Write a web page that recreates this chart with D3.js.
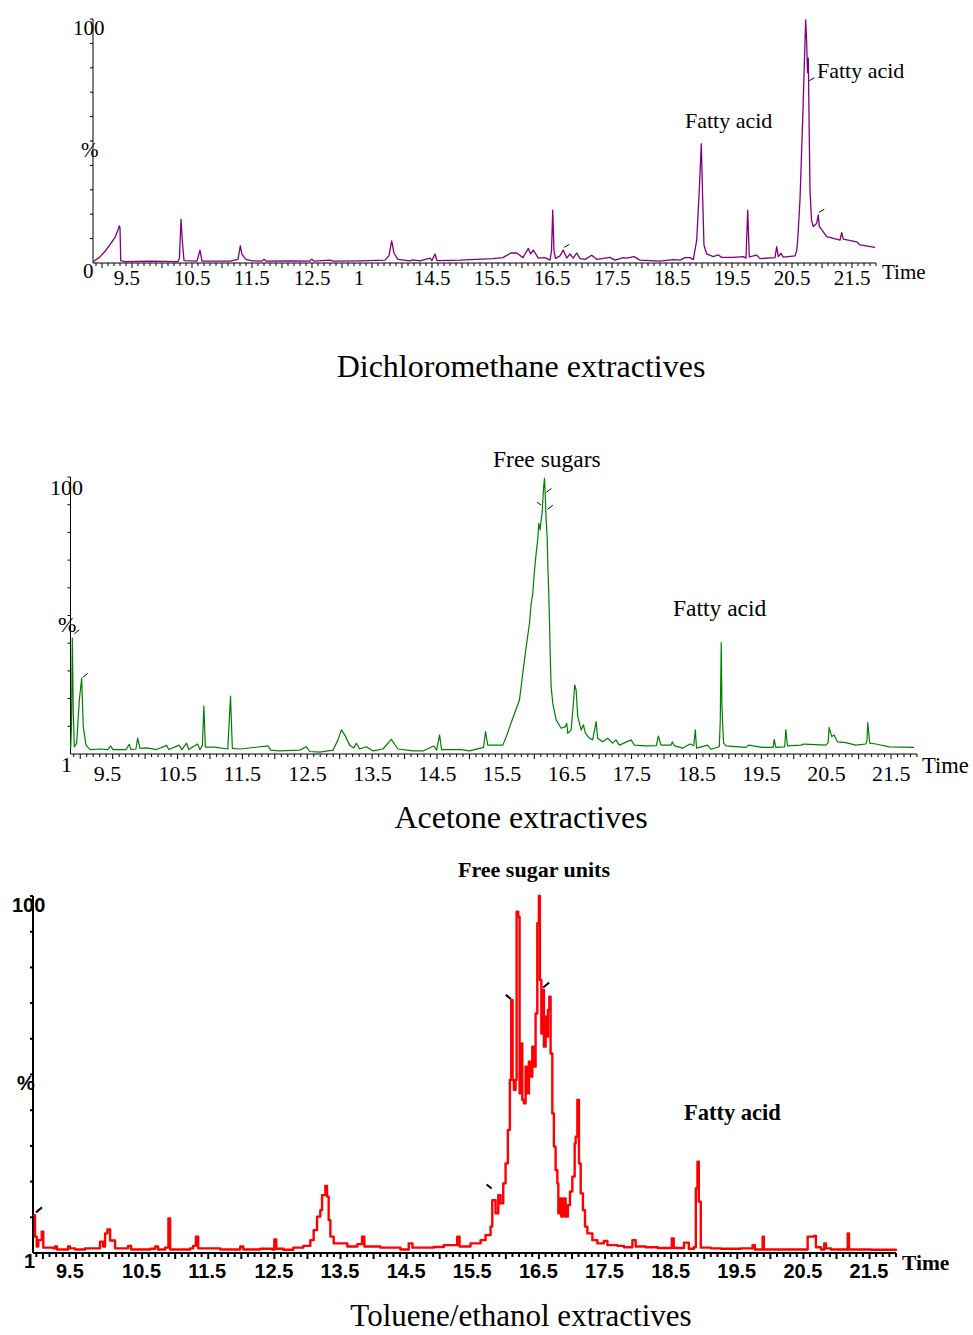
<!DOCTYPE html>
<html>
<head>
<meta charset="utf-8">
<script src="https://cdn.jsdelivr.net/npm/d3@7"></script>
<style>
html,body{margin:0;padding:0;background:#fff;}
svg{display:block;}
</style>
</head>
<body>
<svg id="chart" width="973" height="1335"></svg>
<script>
// ---------------- DATA ----------------
const timeDomain = [8.85, 21.9];
const tickTimes = [9.5,10.5,11.5,12.5,13.5,14.5,15.5,16.5,17.5,18.5,19.5,20.5,21.5];
const dcmTickLabels = ["9.5","10.5","11.5","12.5","1","14.5","15.5","16.5","17.5","18.5","19.5","20.5","21.5"];
const acetoneTickLabels = ["9.5","10.5","11.5","12.5","13.5","14.5","15.5","16.5","17.5","18.5","19.5","20.5","21.5"];
const tolueneTickLabels = ["9.5","10.5","11.5","12.5","13.5","14.5","15.5","16.5","17.5","18.5","19.5","20.5","21.5"];

// Dichloromethane extractives (time, %)
const dcmTime = [8.855,8.883,8.967,9.05,9.133,9.217,9.267,9.288,9.30,9.312,9.383,9.80,10.267,10.29,10.317,10.342,10.367,10.583,10.633,10.667,11.133,11.267,11.305,11.333,11.40,11.5,11.667,11.70,11.733,12.133,12.467,12.495,12.533,12.80,12.85,13.30,13.717,13.783,13.828,13.867,13.933,14.133,14.183,14.30,14.467,14.50,14.55,14.583,14.967,15.245,15.517,15.683,15.812,15.912,16.017,16.105,16.145,16.188,16.272,16.383,16.467,16.492,16.512,16.533,16.558,16.633,16.688,16.745,16.80,16.855,16.912,16.967,17.05,17.162,17.245,17.467,17.55,17.688,17.745,17.867,17.967,18.30,18.522,18.633,18.717,18.80,18.855,18.912,18.955,18.988,19.012,19.033,19.078,19.188,19.272,19.328,19.522,19.688,19.733,19.762,19.788,19.912,19.967,20.217,20.245,20.272,20.317,20.355,20.55,20.578,20.595,20.633,20.678,20.712,20.728,20.742,20.758,20.772,20.783,20.80,20.825,20.855,20.912,20.938,20.955,21.078,21.30,21.328,21.355,21.578,21.633,21.883];
const dcmSignal = [0.5,1,2.5,4.8,7.5,10.5,13.5,15.2,14.5,1,0.6,0.8,0.6,2,17.9,8,1,0.8,5.3,0.8,0.8,1.5,7.0,3.5,1.5,0.9,0.8,1.6,0.8,0.9,0.8,1.6,0.8,1.2,0.8,0.9,1.2,3,9.1,4,1.5,0.9,1.3,0.9,2,1,3.7,1,1.2,1.5,1.8,2.2,4.1,4.1,2.2,6.0,3.7,5.3,2,2.2,1.2,5,21.7,5,1.9,2.9,5.3,2.0,3.7,2,4.1,1.8,1.5,3.2,1.5,2.3,1.2,2.2,2,2.6,1.2,0.8,1.4,1.2,2.2,2.2,1.4,9.4,30,48.9,25.8,7.4,3.7,2.6,3.3,2.3,2.3,2.6,2.0,21.7,2.5,3.2,1.8,2.2,6.7,2.6,4,2.4,2.9,5,9.4,25.8,58.6,87,99.6,92,78,84,61,30,17.6,14.9,16.3,19.7,15,10.8,9.4,12.4,9.8,8.7,7.4,6.4];

// Acetone extractives (time, %)
const acetoneTime = [8.853,8.865,8.878,8.893,8.909,8.945,8.986,9.022,9.047,9.089,9.15,9.304,9.427,9.469,9.504,9.705,9.755,9.782,9.859,9.885,9.92,10.023,10.177,10.331,10.367,10.525,10.567,10.639,10.675,10.809,10.844,10.883,10.906,10.929,11.075,11.275,11.317,11.345,11.46,11.896,11.937,12.076,12.384,12.487,12.538,12.692,12.897,12.974,13.026,13.077,13.154,13.216,13.257,13.308,13.411,13.513,13.667,13.796,13.898,14.129,14.283,14.452,14.494,14.54,14.571,14.874,15.002,15.218,15.248,15.283,15.515,15.567,15.668,15.772,15.822,15.875,15.926,15.952,15.977,16.003,16.029,16.053,16.069,16.090,16.106,16.121,16.141,16.157,16.172,16.183,16.198,16.208,16.223,16.234,16.249,16.26,16.285,16.337,16.414,16.48,16.50,16.516,16.568,16.603,16.623,16.645,16.67,16.722,16.757,16.788,16.85,16.9,16.953,16.977,17.054,17.131,17.208,17.26,17.312,17.492,17.543,17.723,17.881,17.912,17.954,18.108,18.128,18.158,18.286,18.4,18.459,18.482,18.502,18.671,18.724,18.852,18.867,18.882,18.893,18.918,18.955,19.263,19.303,19.518,19.683,19.698,19.724,19.86,19.878,19.903,20.109,20.16,20.494,20.53,20.545,20.587,20.622,20.673,20.802,20.956,21.11,21.13,21.141,21.172,21.265,21.47,21.855];
const acetoneSignal = [2,10,41.8,14.7,2.6,3.9,19.5,27.3,9.9,3.2,1.6,1.8,1.6,2.9,1.6,1.6,3.5,1.6,1.8,5.7,2,2.2,1.6,3.1,1.6,3.2,1.6,3.9,1.6,3.6,1.6,3,17.3,2.5,2.5,1.8,20.9,2,1.8,2.9,1.4,1.1,1.4,2.6,0.9,0.7,1.4,5.1,8.7,6.9,3.2,2.2,3.9,1.8,2.6,1.1,1.8,5.3,1.8,1.1,1.1,2.9,1.4,6.9,1.6,1.6,1.1,2.4,8.1,3.2,3.2,6.2,12.9,19.5,29.1,38.7,47.2,54.4,58,66.4,72.5,77.3,83.3,80.9,84.5,86.9,95.3,99.5,91.7,84.5,78.4,68.8,58,48.4,32.7,24.3,18.3,12.3,9.3,9.9,11.1,7.5,8.7,18.3,24.9,23.1,13.5,8.7,10.5,7.5,5.7,5.1,11.7,5.7,4.4,5.7,3.9,5.1,3.2,5.1,3.2,2.9,3,6.5,3.2,3.2,4.4,3,2.1,3.6,3,8.7,2.1,3.2,1.7,2.6,12,40.2,17.1,3.9,2.9,2.4,3.2,2.4,2.4,5.3,2.4,2.6,8.7,2.9,3.2,3.6,3.2,4,9.6,6.2,6.9,4.4,4.1,3.2,3.6,5,11.3,3.9,3.6,2.6,2.4];

// Toluene/ethanol extractives (time, %)
const tolueneTime = [8.855,8.88,8.906,8.93,8.956,8.982,9.006,9.062,9.153,9.183,9.213,9.38,9.41,9.486,9.637,9.864,9.91,9.94,9.975,10.016,10.091,10.243,10.288,10.334,10.621,10.697,10.742,10.848,10.898,10.924,11.227,11.272,11.313,11.348,11.681,11.984,12.03,12.287,12.468,12.499,12.529,12.635,12.786,12.938,13.044,13.094,13.145,13.195,13.221,13.271,13.297,13.321,13.347,13.397,13.604,13.755,13.826,13.861,14.103,14.406,14.532,14.588,14.906,15.062,15.265,15.3,15.466,15.618,15.693,15.769,15.795,15.845,15.886,15.92,15.961,15.996,16.031,16.061,16.082,16.102,16.122,16.147,16.163,16.188,16.208,16.223,16.249,16.273,16.299,16.325,16.349,16.375,16.4,16.425,16.45,16.476,16.5,16.515,16.537,16.556,16.576,16.602,16.617,16.637,16.658,16.677,16.703,16.727,16.753,16.779,16.794,16.818,16.839,16.87,16.904,16.939,16.97,17.006,17.041,17.056,17.082,17.106,17.132,17.166,17.197,17.233,17.309,17.384,17.484,17.536,17.612,17.687,17.787,17.914,17.964,18.116,18.297,18.479,18.509,18.539,18.695,18.767,18.842,18.873,18.898,18.918,18.948,19.1,19.251,19.554,19.731,19.766,19.857,19.883,19.902,20.311,20.538,20.564,20.655,20.689,20.766,20.815,20.841,20.917,21.144,21.17,21.189,21.522,21.9];
const tolueneSignal = [10.6,4.6,1.8,3.6,3.6,6,1.5,1.5,1.3,1.8,1.0,1.8,1.3,1.0,1.3,3.2,1.8,5.5,6.6,3.5,1.3,1.3,2.0,1.0,1.2,1.8,1.0,1.5,9.7,1.0,1.3,2.0,4.6,1.3,1.0,1.8,1.0,1.2,1.0,3.8,1.2,0.9,1.5,2,3.6,6.4,10.2,12,16.2,18.8,15.8,9.2,4.6,2.7,1.8,2.5,4.6,1.8,1.5,1.0,2.7,1.5,1.7,2.2,4.6,1.8,2.7,3.6,5,7.4,14.8,11.1,16.2,13.9,19.5,25.1,34.5,48.5,70.9,48.5,45.7,48.5,95.6,94.2,44.7,58.7,42.9,41.9,52.2,44.7,53.6,49.4,57.8,52.2,67.1,92.4,100,76.5,61.5,73.7,57.8,66.2,60.6,68.1,71.8,55.9,39.1,29.8,23.2,19.5,11.1,15.3,10.2,15.3,10.2,13.4,17.2,21.4,30.7,32.6,42.9,25.1,16.7,12,7.4,5.5,3.6,2.7,3.4,2.2,2.2,2.0,1.6,3.6,1.8,1.6,1.4,1.4,4.1,1.4,2.9,1.2,1.6,18.1,25.6,14.4,1.5,1.3,1.2,1.3,2.2,1.0,1.0,4.6,1.0,1.0,1.0,4.6,4.8,1.6,1.0,2.7,1.3,1.0,1.0,5.5,1.0,0.9,0.6];

// peak-marker ticks (time, %, side)
const dcmMarkT = [16.688, 20.772, 20.938];
const dcmMarkI = [6.0, 74.3, 20.4];
const dcmMarkSide = ["r","r","r"];
const acetoneMarkT = [8.893, 9.022, 16.12, 16.172, 16.192];
const acetoneMarkI = [43, 27.3, 89.5, 94.1, 88];
const acetoneMarkSide = ["r","r","l","r","r"];
const tolueneMarkT = [8.88, 15.80, 16.09, 16.55];
const tolueneMarkI = [11.1, 17.8, 70.9, 74.1];
const tolueneMarkSide = ["r","l","l","r"];

// ---------------- DRAW ----------------
const svg = d3.select("#chart");
svg.append("rect").attr("width",973).attr("height",1335).attr("fill","#fff");

function zip(ts, vs){ return ts.map((t,i)=>({t:t, v:vs[i]})); }

function panel(cfg){
  const g = svg.append("g");
  const x = d3.scaleLinear().domain(timeDomain).range(cfg.xr);
  const y = d3.scaleLinear().domain([0,100]).range(cfg.yr);
  const base = cfg.yr[0];

  g.append("line").attr("x1",cfg.xr[0]).attr("x2",cfg.xr[1]).attr("y1",base).attr("y2",base)
    .attr("stroke","#000").attr("stroke-width",cfg.axisW);
  g.append("line").attr("x1",cfg.xr[0]).attr("x2",cfg.xr[0]).attr("y1",base).attr("y2",cfg.yr[1])
    .attr("stroke","#000").attr("stroke-width",cfg.axisW);

  g.selectAll(".yt").data(y.ticks(10).filter(d=>d>0)).enter().append("line")
    .attr("x1",cfg.xr[0]-cfg.ytl).attr("x2",cfg.xr[0]).attr("y1",d=>y(d)).attr("y2",d=>y(d))
    .attr("stroke","#000").attr("stroke-width",cfg.axisW);

  const minor = d3.range(Math.ceil(timeDomain[0]*10), Math.floor(timeDomain[1]*10)+1).map(d=>d/10);
  g.selectAll(".xt").data(minor).enter().append("line")
    .attr("x1",d=>x(d)).attr("x2",d=>x(d)).attr("y1",base)
    .attr("y2",d=>base + (Math.abs((d*10)%5)<0.01 ? cfg.xtl+2 : cfg.xtl))
    .attr("stroke","#000").attr("stroke-width",cfg.tickW);

  const line = d3.line().x(d=>x(d.t)).y(d=>y(d.v)).curve(cfg.curve);
  g.append("path").datum(zip(cfg.time,cfg.signal)).attr("d",line)
    .attr("fill","none").attr("stroke",cfg.color).attr("stroke-width",cfg.lineW)
    .attr("stroke-linejoin","round");

  const mk = cfg.markT.map((t,i)=>({t:t, v:cfg.markI[i], s:cfg.markSide[i]}));
  g.selectAll(".mk").data(mk).enter().append("line")
    .attr("x1",d=> d.s==="r" ? x(d.t)+1 : x(d.t)-cfg.mdx)
    .attr("y1",d=> d.s==="r" ? y(d.v)-1 : y(d.v)-cfg.mdy)
    .attr("x2",d=> d.s==="r" ? x(d.t)+1+cfg.mdx : x(d.t)-1)
    .attr("y2",d=> d.s==="r" ? y(d.v)-1-cfg.mdy : y(d.v)-1)
    .attr("stroke","#000").attr("stroke-width",cfg.markW);

  g.selectAll(".tl").data(tickTimes).enter().append("text")
    .attr("x",d=>x(d)-cfg.labOff).attr("y",cfg.labY)
    .attr("font-family",cfg.tickFont).attr("font-size",cfg.tickSize).attr("font-weight",cfg.tickWeight)
    .text((d,i)=>cfg.tickLabels[i]);

  function txt(s,xx,yy,font,size,weight,anchor){
    g.append("text").attr("x",xx).attr("y",yy).attr("font-family",font).attr("font-size",size)
     .attr("font-weight",weight||"normal").attr("text-anchor",anchor||"start").text(s);
  }
  cfg.texts.forEach(a=>txt(a[0],a[1],a[2],a[3],a[4],a[5],a[6]));
}

const serif = "'Liberation Serif','Times New Roman',serif";
const sansB = "'Liberation Sans',Arial,sans-serif";

panel({
  xr:[93,876], yr:[263,19], color:"#800080", lineW:1.3, axisW:1, tickW:1, ytl:3, xtl:3,
  curve:d3.curveLinear, time:dcmTime, signal:dcmSignal,
  markT:dcmMarkT, markI:dcmMarkI, markSide:dcmMarkSide, mdx:5, mdy:3, markW:1,
  tickLabels:dcmTickLabels, labOff:18.3, labY:285, tickFont:serif, tickSize:21, tickWeight:"normal",
  texts:[
    ["100",73,35,serif,21],
    ["%",81,157,serif,21],
    ["0",83,278,serif,21],
    ["Time",882,279,serif,21],
    ["Fatty acid",685,128,serif,22],
    ["Fatty acid",817,78,serif,22],
    ["Dichloromethane extractives",521,377,serif,32,"normal","middle"]
  ]
});

panel({
  xr:[70.5,917], yr:[754,477], color:"#008000", lineW:1.2, axisW:1, tickW:1, ytl:3, xtl:3,
  curve:d3.curveLinear, time:acetoneTime, signal:acetoneSignal,
  markT:acetoneMarkT, markI:acetoneMarkI, markSide:acetoneMarkSide, mdx:5, mdy:4, markW:1,
  tickLabels:acetoneTickLabels, labOff:19, labY:781, tickFont:serif, tickSize:22, tickWeight:"normal",
  texts:[
    ["100",50,495,serif,22],
    ["%",58,632,serif,22],
    ["1",61,772,serif,22],
    ["Time",922,773,serif,22.5],
    ["Free sugars",493,467,serif,23.5],
    ["Fatty acid",673,616,serif,23.5],
    ["Acetone extractives",521,828,serif,32,"normal","middle"]
  ]
});

panel({
  xr:[33,896], yr:[1253,896], color:"#ff0000", lineW:2.4, axisW:2, tickW:2, ytl:3, xtl:4,
  curve:d3.curveStepAfter, time:tolueneTime, signal:tolueneSignal,
  markT:tolueneMarkT, markI:tolueneMarkI, markSide:tolueneMarkSide, mdx:6, mdy:5, markW:2,
  tickLabels:tolueneTickLabels, labOff:20, labY:1278, tickFont:sansB, tickSize:20, tickWeight:"bold",
  texts:[
    ["100",12,912,sansB,20,"bold"],
    ["%",17,1090,sansB,20,"bold"],
    ["1",24,1268,sansB,20,"bold"],
    ["Time",902,1270,serif,21.5,"bold"],
    ["Free sugar units",458,877,serif,22,"bold"],
    ["Fatty acid",684,1120,serif,22.5,"bold"],
    ["Toluene/ethanol extractives",521,1326,serif,31,"normal","middle"]
  ]
});
</script>
</body>
</html>
